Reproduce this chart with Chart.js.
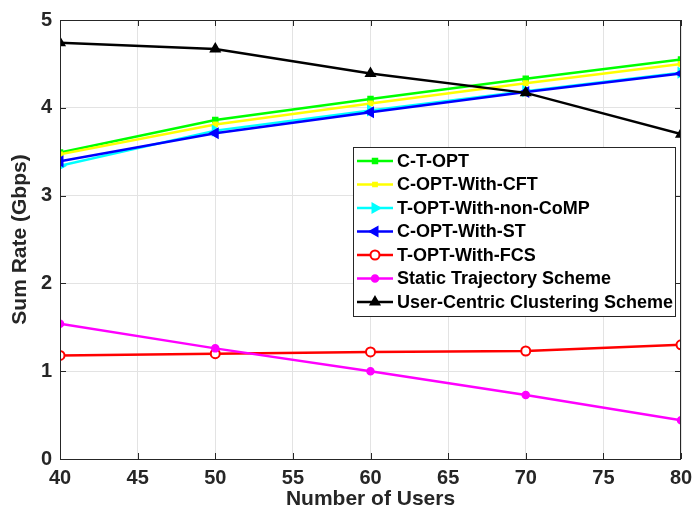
<!DOCTYPE html>
<html>
<head>
<meta charset="utf-8">
<script src="https://cdn.jsdelivr.net/npm/chart.js@4"></script>
<style>
  html, body { margin: 0; padding: 0; background: #fff; }
  #wrap { width: 692px; height: 515px; }
</style>
</head>
<body>
<div id="wrap"><canvas id="chart" width="692" height="515"></canvas></div>
<script>
const users = [40, 50, 60, 70, 80];

const cTOpt = [3.49, 3.86, 4.10, 4.33, 4.55];
const cOptCft = [3.47, 3.81, 4.05, 4.28, 4.50];
const tOptNonComp = [3.34, 3.74, 3.97, 4.19, 4.40];
const cOptSt = [3.39, 3.71, 3.95, 4.18, 4.39];
const tOptFcs = [1.18, 1.20, 1.22, 1.23, 1.30];
const staticTraj = [1.54, 1.26, 1.00, 0.73, 0.44];
const userCentric = [4.74, 4.67, 4.39, 4.17, 3.70];

const xTicks = [40, 45, 50, 55, 60, 65, 70, 75, 80];
const yTicks = [0, 1, 2, 3, 4, 5];

const FONT = '"Liberation Sans", Arial, sans-serif';

function series(label, values, color, style, extra) {
    return Object.assign({
        label: label,
        data: users.map((u, i) => ({ x: u, y: values[i] })),
        borderColor: color,
        backgroundColor: color,
        pointBorderColor: color,
        pointBackgroundColor: color,
        borderWidth: 2.5,
        pointStyle: style,
        pointRadius: 4,
        pointBorderWidth: 1.5,
        tension: 0
    }, extra || {});
}

const datasets = [
    series('C-T-OPT', cTOpt, '#00ff00', 'rect', { pointRadius: 3.5 }),
    series('C-OPT-With-CFT', cOptCft, '#ffff00', 'rect', { pointRadius: 3 }),
    series('T-OPT-With-non-CoMP', tOptNonComp, '#00ffff', 'triangle', { pointRotation: 90, pointRadius: 5.5 }),
    series('C-OPT-With-ST', cOptSt, '#0000ff', 'triangle', { pointRotation: -90, pointRadius: 5.5 }),
    series('T-OPT-With-FCS', tOptFcs, '#ff0000', 'circle', { pointBackgroundColor: '#ffffff', pointRadius: 4.5, pointBorderWidth: 2 }),
    series('Static Trajectory Scheme', staticTraj, '#ff00ff', 'circle', { pointRadius: 3.5 }),
    series('User-Centric Clustering Scheme', userCentric, '#000000', 'triangle', { pointRadius: 5.5, pointBackgroundColor: '#000000' })
];
datasets.forEach((d, i) => { d.order = 10 - i; });

// frame with inward ticks, MATLAB style
const framePlugin = {
    id: 'frame',
    afterDatasetsDraw(chart) {
        const { ctx, chartArea: a, scales } = chart;
        ctx.save();
        ctx.strokeStyle = '#262626';
        ctx.lineWidth = 1;
        ctx.strokeRect(a.left + 0.5, a.top + 0.5, a.right - a.left - 1, a.bottom - a.top);
        ctx.beginPath();
        xTicks.forEach(t => {
            const x = Math.round(scales.x.getPixelForValue(t)) + 0.5;
            ctx.moveTo(x, a.bottom); ctx.lineTo(x, a.bottom - 6);
            ctx.moveTo(x, a.top); ctx.lineTo(x, a.top + 6);
        });
        yTicks.forEach(t => {
            const y = Math.round(scales.y.getPixelForValue(t)) + 0.5;
            ctx.moveTo(a.left, y); ctx.lineTo(a.left + 6, y);
            ctx.moveTo(a.right, y); ctx.lineTo(a.right - 6, y);
        });
        ctx.stroke();
        ctx.restore();
    }
};

// legend box inside the plot
const legendPlugin = {
    id: 'insideLegend',
    afterDraw(chart) {
        const ctx = chart.ctx;
        const left = 353, top = 147, w = 322, h = 169, row = 23.5;
        ctx.save();
        ctx.fillStyle = '#ffffff';
        ctx.fillRect(left, top, w, h);
        ctx.strokeStyle = '#262626';
        ctx.lineWidth = 1;
        ctx.strokeRect(left + 0.5, top + 0.5, w, h);
        ctx.font = 'bold 18px ' + FONT;
        ctx.textBaseline = 'middle';
        chart.data.datasets.forEach((d, i) => {
            const y = top + 14 + i * row;
            ctx.strokeStyle = d.borderColor;
            ctx.lineWidth = 2.5;
            ctx.beginPath();
            ctx.moveTo(left + 4, y); ctx.lineTo(left + 40, y);
            ctx.stroke();
            ctx.fillStyle = d.pointBackgroundColor;
            ctx.strokeStyle = d.pointBorderColor;
            ctx.lineWidth = d.pointBorderWidth;
            Chart.helpers.drawPoint(ctx, {
                pointStyle: d.pointStyle,
                rotation: d.pointRotation || 0,
                radius: d.pointRadius,
                borderWidth: d.pointBorderWidth
            }, left + 22, y);
            ctx.fillStyle = '#000000';
            ctx.fillText(d.label, left + 44, y + 1);
        });
        ctx.restore();
    }
};

new Chart(document.getElementById('chart'), {
    type: 'line',
    data: { datasets: datasets },
    options: {
        responsive: false,
        animation: false,
        layout: { padding: { top: 18, right: 11, left: 0, bottom: 0 } },
        plugins: {
            legend: { display: false },
            tooltip: { enabled: false }
        },
        scales: {
            x: {
                type: 'linear',
                min: 40,
                max: 80,
                afterBuildTicks: s => { s.ticks = xTicks.map(v => ({ value: v })); },
                afterFit: s => { s.height = 56; s.paddingLeft = 0; s.paddingRight = 0; },
                grid: { color: '#e3e3e3', drawTicks: false },
                border: { display: false },
                ticks: { color: '#262626', padding: 7, maxRotation: 0, font: { family: FONT, size: 20, weight: 'bold' } },
                title: { display: true, text: 'Number of Users', color: '#262626', padding: { top: 0, bottom: 3 }, font: { family: FONT, size: 21, weight: 'bold' } }
            },
            y: {
                min: 0,
                max: 5,
                afterBuildTicks: s => { s.ticks = yTicks.map(v => ({ value: v })); },
                afterFit: s => { s.width = 60; },
                grid: { color: '#e3e3e3', drawTicks: false },
                border: { display: false },
                ticks: { color: '#262626', padding: 8, font: { family: FONT, size: 20, weight: 'bold' } },
                title: { display: true, text: 'Sum Rate (Gbps)', color: '#262626', padding: { top: 8, bottom: 0 }, font: { family: FONT, size: 21, weight: 'bold' } }
            }
        }
    },
    plugins: [framePlugin, legendPlugin]
});
</script>
</body>
</html>
